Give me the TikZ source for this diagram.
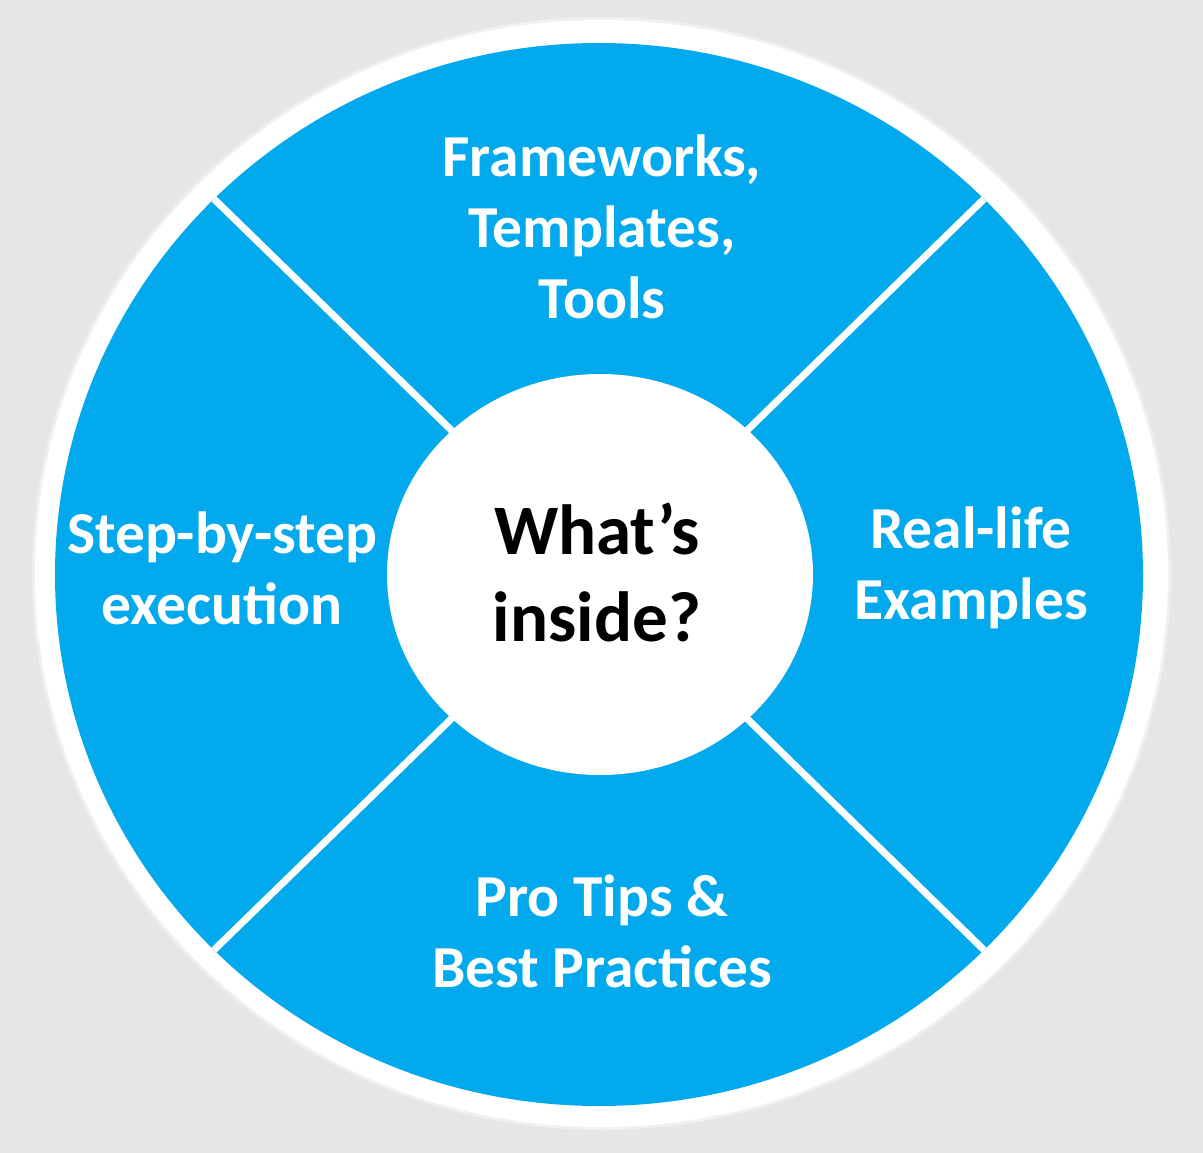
\documentclass[tikz,border=0pt]{standalone}
\usepackage{fontspec}
\setmainfont{Carlito}
\definecolor{bggray}{HTML}{E6E6E6}
\definecolor{ringshadow}{HTML}{F0F0F0}
\definecolor{wheelblue}{HTML}{02A9EC}
\begin{document}
\begin{tikzpicture}[x=1pt,y=-1pt,
  seglabel/.style={text=white, align=center, font=\fontsize{59.5}{71}\selectfont\bfseries, inner sep=0pt},
  hublabel/.style={text=black, align=center, font=\fontsize{71}{87}\selectfont\bfseries, inner sep=0pt},
  divider/.style={white, line width=7pt}]
  \useasboundingbox (0,0) rectangle (1203,1153);
  \fill[bggray] (0,0) rectangle (1203,1153);
  % outer ring
  \fill[ringshadow] (601.5,573.5) ellipse [x radius=569.5pt, y radius=556.5pt];
  \fill[white] (601.5,573.5) ellipse [x radius=566.5pt, y radius=553.5pt];
  % blue wheel
  \fill[wheelblue] (599,574.5) ellipse [x radius=544pt, y radius=531.5pt];
  % dividers
  \coordinate (c) at (599.5,574.5);
  \coordinate (tl) at (214,199);
  \coordinate (tr) at (984,199);
  \coordinate (bl) at (214,950);
  \coordinate (br) at (984,950);
  \draw[divider] (c) -- (tl);
  \draw[divider] (c) -- (tr);
  \draw[divider] (c) -- (bl);
  \draw[divider] (c) -- (br);
  % hub
  \fill[white] (600,574.5) ellipse [x radius=213pt, y radius=200.5pt];
  \node[hublabel] (hub) at (597,572) {What’s\\inside?};
  % segment labels
  \node[seglabel] (top) at (602,227) {Frameworks,\\Templates,\\Tools};
  \node[seglabel] (left) at (222,568) {Step-by-step\\execution};
  \node[seglabel] (right) at (971,568) {Real-life\\Examples};
  \node[seglabel] (bottom) at (602,931) {Pro Tips \&\\Best Practices};
\end{tikzpicture}
\end{document}
